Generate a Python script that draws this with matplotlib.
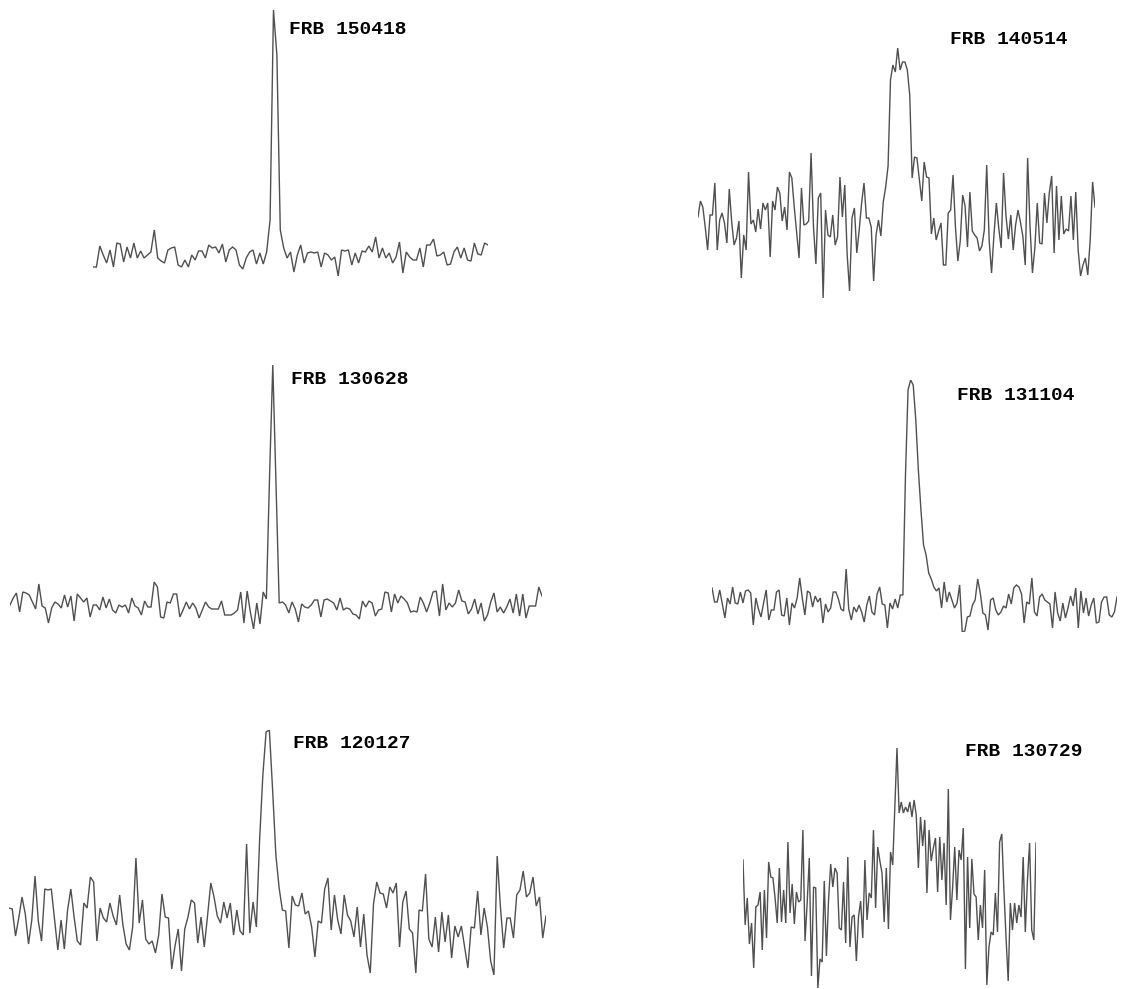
import matplotlib
matplotlib.use("Agg")
import matplotlib.pyplot as plt
import numpy as np

W, H = 1121, 989

# ---- data (relative intensity) ----
frb150418 = [-7,-7,14,5,-3,10,-7,17,16,-2,13,2,17,2,9,2,5,8,30,2,-1,-3,10,12,13,-5,-7,0,-7,5,0,9,9,2,15,12,13,7,16,-2,10,13,10,-5,-9,2,8,10,-4,7,-4,8,40,
             250,205,
             30,12,2,8,-12,5,15,-3,7,8,7,8,-7,7,5,0,3,-16,10,9,10,-5,7,-3,9,8,14,8,23,2,12,2,7,-3,3,18,-13,8,3,0,0,12,-7,15,15,21,4,5,8,-5,-4,8,13,2,12,0,-1,17,6,5,17,15]

frb140514 = [-2,14,8,-12,-35,0,0,32,-35,-5,2,-8,-28,26,-7,-30,-23,-6,-63,-20,-35,43,-9,-5,-17,6,-14,12,5,12,-42,14,5,28,22,-6,8,-15,43,37,8,-18,-43,27,-10,-9,-6,62,-12,-49,17,22,-83,5,-20,-22,0,-30,-22,38,-2,30,-40,-76,-3,7,-38,-15,12,32,-3,-3,-12,-66,-20,-5,-21,13,28,49,
             135,150,143,167,145,153,153,145,120,
             37,58,57,35,14,53,38,37,-19,-3,-25,-16,-8,-50,-50,2,5,40,-12,-46,-26,20,9,-32,23,-16,-20,-23,-36,-31,-15,50,-25,-58,-20,12,-13,-33,42,-1,-24,0,-35,-10,5,-7,-21,-50,57,-12,-58,-33,12,-28,-29,22,-8,22,39,-38,29,-25,19,-19,-14,-16,19,-25,23,-35,-61,-50,-43,-60,-25,33,8]

frb130628 = [0,7,12,-7,13,12,10,3,-4,21,-1,-3,-18,-3,3,1,-3,10,-2,9,-16,11,7,3,7,-12,0,0,-5,8,-3,6,-5,-8,0,-2,0,-8,7,-1,-3,-10,4,-2,-2,23,18,-12,-13,3,2,11,11,-12,-5,3,-4,2,-3,-13,-5,3,-2,-4,-4,-4,4,-10,-10,-10,-8,-5,13,-18,14,-7,-24,2,-19,13,6,
             130,240,120,
             2,3,0,-8,3,-4,-17,1,-2,-3,0,5,5,-12,5,6,4,2,-5,7,-5,-3,-4,-9,-10,-14,4,-2,4,2,-11,-5,-4,13,12,-7,11,2,9,6,2,-7,-6,-7,8,2,-7,2,13,14,-11,21,-5,2,-2,2,15,4,3,-9,-4,6,-9,2,-16,-10,3,12,-7,-2,-8,-2,6,-8,11,-11,11,-13,-1,-1,-1,18,9]

frb131104 = [17,3,3,15,1,-13,7,1,18,2,1,13,2,14,15,12,-20,7,-4,-12,2,15,-15,-5,-5,13,15,-10,-11,7,-20,2,-3,7,27,7,-10,14,12,-2,9,3,7,-18,1,-7,-3,13,13,6,-4,-6,36,-4,-15,-2,-7,0,-7,-17,0,9,-7,-10,11,18,1,0,-23,2,-4,6,-3,10,10,
             130,215,225,220,185,135,95,60,50,
             32,26,18,14,17,-3,23,3,13,5,-3,2,20,-27,-26,-12,-11,0,5,26,12,-8,-10,-25,5,7,-5,-10,-7,-1,-3,11,1,17,20,18,11,-18,3,1,27,-7,-11,8,11,5,3,1,-23,13,-8,-16,2,-13,-3,9,-1,17,-23,14,-8,7,-11,0,7,-18,-17,3,8,8,-10,-12,-7,8]

frb120127 = [2,1,-26,-8,13,-4,-34,-10,34,-11,-31,21,20,21,-10,-40,-10,-39,0,21,-7,-31,-35,7,2,33,28,-31,2,-8,-12,7,-6,-15,15,-15,-34,-40,-17,52,-13,10,-29,-34,-31,-43,-25,16,-7,-8,-59,-36,-19,-61,-19,-7,10,7,-33,-7,-37,-6,27,13,-6,-13,8,-8,7,-25,0,-21,-25,66,-23,8,-17,
             70,135,178,180,120,55,
             22,0,-1,-38,14,5,4,17,-4,-1,-17,-47,-11,-13,21,32,-20,15,-10,-24,15,-5,-11,-27,3,-37,-4,-45,-63,6,28,17,16,2,23,17,27,-37,8,19,-19,-23,-63,0,-1,36,-29,-37,-7,-42,-2,-32,-5,-48,-16,-27,-16,-37,-58,-17,-18,19,-25,2,-17,-51,-65,54,3,-38,-8,-8,-28,15,20,39,13,17,33,4,13,-28,-6]

frb130729 = [40,-25,2,-44,-23,-68,-7,-5,8,-50,10,-38,38,23,22,2,-23,32,-22,10,-23,58,-13,16,-24,8,-2,0,70,-41,-3,42,-76,13,12,-88,-59,-62,19,-56,0,36,13,32,27,-28,-30,18,-43,43,-47,-17,-15,-61,-17,-1,-38,40,-20,7,2,70,-8,53,39,27,-22,32,-29,48,
             35,93,152,87,98,87,93,88,98,83,100,85,32,83,54,80,7,70,39,52,62,8,63,20,57,-5,111,-20,12,53,0,50,40,72,-69,43,-28,41,6,3,-40,-5,-28,30,-85,-47,-32,-35,7,-32,58,66,10,-38,-81,-3,-30,-3,-23,-5,-17,43,-32,20,57,-30,-40,57]

names = ["FRB 150418", "FRB 140514", "FRB 130628", "FRB 131104", "FRB 120127", "FRB 130729"]
series = [frb150418, frb140514, frb130628, frb131104, frb120127, frb130729]

# layout (pixels): left, right, baseline ; label left x, label center y
layout = [
    (93, 488, 260, 289, 30),
    (698, 1095, 215, 950, 40),
    (10, 542, 605, 291, 380),
    (712, 1117, 605, 957, 395),
    (9, 546, 910, 293, 744),
    (743, 1036, 900, 965, 752),
]

fig = plt.figure(figsize=(W / 100, H / 100), dpi=100)
fig.patch.set_facecolor("white")

for name, vals, (x0, x1, base, tx, ty) in zip(names, series, layout):
    v = np.asarray(vals, dtype=float)
    vmin, vmax = v.min(), v.max()
    bottom_px = base - vmin
    top_px = base - vmax
    ax = fig.add_axes([x0 / W, 1 - bottom_px / H, (x1 - x0) / W, (bottom_px - top_px) / H])
    ax.plot(np.arange(len(v)), v, color="#505050", lw=1.0, solid_joinstyle="miter")
    ax.set_xlim(0, len(v) - 1)
    ax.set_ylim(vmin, vmax)
    ax.axis("off")
    fig.text(tx / W, 1 - ty / H, name, ha="left", va="center",
             fontsize=14, fontweight="bold", family="Liberation Mono", color="black")

fig.savefig("out.png", dpi=100, facecolor="white")
